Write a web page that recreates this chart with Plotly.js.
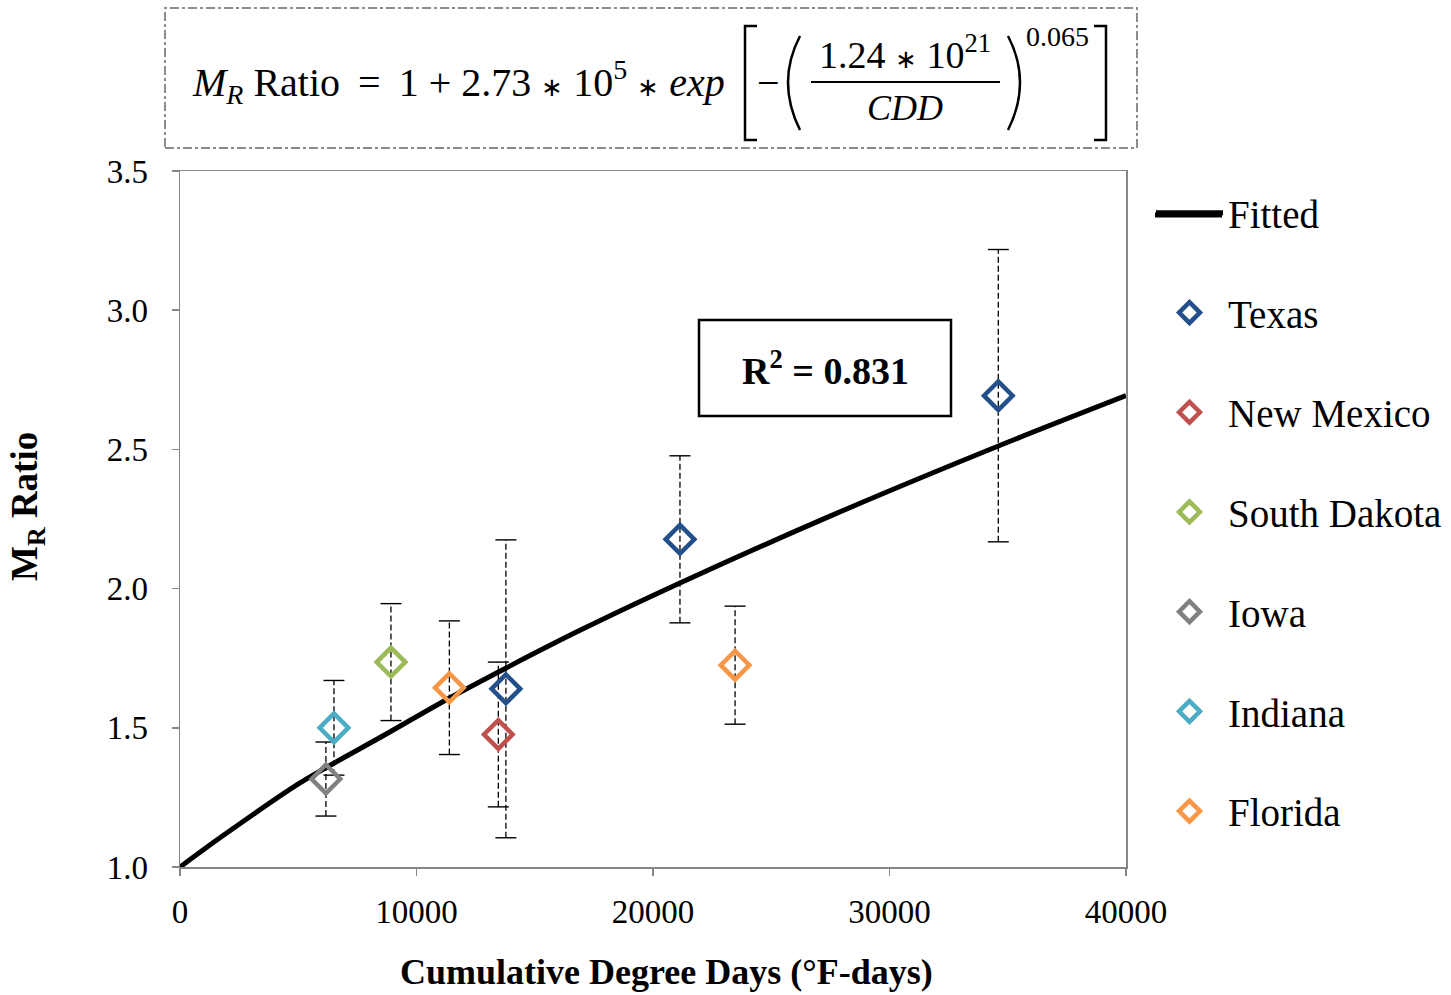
<!DOCTYPE html>
<html>
<head>
<meta charset="utf-8">
<script src="https://cdn.plot.ly/plotly-3.0.1.min.js"></script>
<style>
  html, body { margin: 0; padding: 0; background: #ffffff; }
  #chart { width: 1451px; height: 995px; }
</style>
</head>
<body>
<div id="chart"></div>
<script>
// ---------------- DATA ----------------
const fittedCDD   = [0, 1691, 5074, 8457, 11416, 13813, 16913, 21142, 27340, 34630, 40000];
const fittedRatio = [1.0, 1.105, 1.302, 1.465, 1.608, 1.716, 1.85, 2.02, 2.255, 2.513, 2.693];

const states = ["Texas", "New Mexico", "South Dakota", "Iowa", "Indiana", "Florida"];
const stateColors = ["#23508A", "#C0504D", "#9BBB59", "#808080", "#4BACC6", "#F79646"];

const texasCDD    = [13780, 21140, 34600];
const texasRatio  = [1.640, 2.177, 2.693];
const texasErr    = [0.535, 0.300, 0.525];

const newMexicoCDD   = [13460];
const newMexicoRatio = [1.476];
const newMexicoErr   = [0.260];

const southDakotaCDD   = [8920];
const southDakotaRatio = [1.736];
const southDakotaErr   = [0.210];

const iowaCDD   = [6170];
const iowaRatio = [1.316];
const iowaErr   = [0.133];

const indianaCDD   = [6510];
const indianaRatio = [1.500];
const indianaErr   = [0.170];

const floridaCDD   = [11390, 23470];
const floridaRatio = [1.644, 1.725];
const floridaErr   = [0.240, 0.212];

const xTickVals = [0, 10000, 20000, 30000, 40000];
const yTickVals = [1.0, 1.5, 2.0, 2.5, 3.0, 3.5];
const rSquaredText = "R<sup>2</sup> = 0.831";

// ---------------- helpers for layout placement ----------------
const PL = 180, PR = 1126, PT = 171, PB = 867;
const px = p => (p - PL) / (PR - PL);
const py = p => (PB - p) / (PB - PT);

const stateSeries = [
  [texasCDD, texasRatio, texasErr],
  [newMexicoCDD, newMexicoRatio, newMexicoErr],
  [southDakotaCDD, southDakotaRatio, southDakotaErr],
  [iowaCDD, iowaRatio, iowaErr],
  [indianaCDD, indianaRatio, indianaErr],
  [floridaCDD, floridaRatio, floridaErr]
];

const serif = "Liberation Serif, Times New Roman, serif";
const traces = [];

// error bars (dashed) as line traces built from the data
stateSeries.forEach(([xs, ys, es]) => {
  const ex = [], ey = [];
  xs.forEach((x, i) => { ex.push(x, x, null); ey.push(ys[i] - es[i], ys[i] + es[i], null); });
  traces.push({
    x: ex, y: ey, type: "scatter", mode: "lines+markers", showlegend: false, hoverinfo: "skip",
    line: { color: "#000000", width: 1.3, dash: "6px,3px" },
    marker: { symbol: "line-ew-open", size: 15, line: { color: "#000000", width: 1.4 } }
  });
});

// fitted curve
traces.push({
  x: fittedCDD, y: fittedRatio, type: "scatter", mode: "lines", name: "Fitted",
  legendgroup: "g0",
  line: { color: "#000000", width: 5, shape: "spline", smoothing: 0.8 }
});

// state markers
stateSeries.forEach(([xs, ys], k) => {
  traces.push({
    x: xs, y: ys, type: "scatter", mode: "markers", name: states[k],
    legendgroup: "g" + (k + 1),
    marker: { symbol: "diamond-open", size: 22, color: stateColors[k], line: { color: stateColors[k], width: 4.5 } }
  });
});

const shapes = [
  // equation dash-dot box
  { type: "rect", xref: "paper", yref: "paper", x0: px(165), x1: px(1137), y0: py(148), y1: py(8),
    line: { color: "#8c8c8c", width: 2, dash: "dashdot" } },
  // left square bracket
  { type: "path", xref: "paper", yref: "paper",
    path: `M${px(757)},${py(26)} L${px(745)},${py(26)} L${px(745)},${py(140)} L${px(757)},${py(140)}`,
    line: { color: "#000", width: 2.5 } },
  // right square bracket
  { type: "path", xref: "paper", yref: "paper",
    path: `M${px(1094)},${py(26)} L${px(1106)},${py(26)} L${px(1106)},${py(140)} L${px(1094)},${py(140)}`,
    line: { color: "#000", width: 2.5 } },
  // left parenthesis
  { type: "path", xref: "paper", yref: "paper",
    path: `M${px(800)},${py(36)} Q${px(776)},${py(82)} ${px(800)},${py(130)}`,
    line: { color: "#000", width: 2.5 } },
  // right parenthesis
  { type: "path", xref: "paper", yref: "paper",
    path: `M${px(1008)},${py(36)} Q${px(1032)},${py(82)} ${px(1008)},${py(130)}`,
    line: { color: "#000", width: 2.5 } },
  // fraction bar
  { type: "line", xref: "paper", yref: "paper", x0: px(811), x1: px(1000), y0: py(82), y1: py(82),
    line: { color: "#000", width: 2 } },
  // R^2 box
  { type: "rect", xref: "paper", yref: "paper", x0: px(699), x1: px(951), y0: py(416), y1: py(320),
    line: { color: "#000", width: 2.5 }, fillcolor: "rgba(255,255,255,1)", layer: "above" },
  // legend line extension for "Fitted"
  { type: "line", xref: "paper", yref: "paper", x0: px(1155), x1: px(1222), y0: py(215), y1: py(215),
    line: { color: "#000", width: 5 } }
];

const ast = '<span style="font-size:26px">∗</span>';
const eqFont = { family: serif, size: 40, color: "#000" };
const annotations = [
  { xref: "paper", yref: "paper", x: px(190), y: py(82), xanchor: "left", yanchor: "middle", showarrow: false,
    text: `<i>M</i><sub><i>R</i></sub> Ratio\u2009 = \u20091 + 2.73 ${ast} 10<sup>5</sup> ${ast} <i>exp</i>`, font: eqFont },
  { xref: "paper", yref: "paper", x: px(768), y: py(82), xanchor: "center", yanchor: "middle", showarrow: false,
    text: "−", font: eqFont },
  { xref: "paper", yref: "paper", x: px(905), y: py(52), xanchor: "center", yanchor: "middle", showarrow: false,
    text: `1.24 ${ast} 10<sup>21</sup>`, font: { family: serif, size: 38, color: "#000" } },
  { xref: "paper", yref: "paper", x: px(905), y: py(108), xanchor: "center", yanchor: "middle", showarrow: false,
    text: "<i>CDD</i>", font: { family: serif, size: 36, color: "#000" } },
  { xref: "paper", yref: "paper", x: px(1057), y: py(36), xanchor: "center", yanchor: "middle", showarrow: false,
    text: "0.065", font: { family: serif, size: 28, color: "#000" } },
  { xref: "paper", yref: "paper", x: px(825), y: py(368), xanchor: "center", yanchor: "middle", showarrow: false,
    text: "<b>" + rSquaredText + "</b>", font: { family: serif, size: 38, color: "#000" } },
  { xref: "paper", yref: "paper", x: px(666), y: py(972), xanchor: "center", yanchor: "middle", showarrow: false,
    text: "<b>Cumulative Degree Days (°F-days)</b>", font: { family: serif, size: 36, color: "#000" } },
  { xref: "paper", yref: "paper", x: px(27), y: py(507), xanchor: "center", yanchor: "middle", showarrow: false,
    textangle: -90, text: "<b>M<sub>R</sub> Ratio</b>", font: { family: serif, size: 37, color: "#000" } }
];

const layout = {
  width: 1451, height: 995,
  margin: { l: PL, r: 1451 - PR, t: PT, b: 995 - PB, pad: 0, autoexpand: false },
  paper_bgcolor: "#ffffff", plot_bgcolor: "#ffffff",
  font: { family: serif, color: "#000" },
  xaxis: {
    range: [0, 40000], tickvals: xTickVals, ticktext: xTickVals.map(String),
    showgrid: false, zeroline: false, showline: true, mirror: true, automargin: false,
    linecolor: "#868686", linewidth: 1.5, ticks: "outside", ticklen: 7, tickcolor: "#868686", tickwidth: 1.5,
    tickfont: { family: serif, size: 33, color: "#000" }, ticklabelstandoff: 8
  },
  yaxis: {
    range: [1, 3.5], tickvals: yTickVals, ticktext: yTickVals.map(v => v.toFixed(1)),
    showgrid: false, zeroline: false, showline: true, mirror: true, automargin: false,
    linecolor: "#868686", linewidth: 1.5, ticks: "outside", ticklen: 7, tickcolor: "#868686", tickwidth: 1.5,
    tickfont: { family: serif, size: 33, color: "#000" }, ticklabelstandoff: 17
  },
  showlegend: true,
  legend: {
    x: px(1151), y: py(181), xanchor: "left", yanchor: "top",
    font: { family: serif, size: 39, color: "#000" },
    bgcolor: "rgba(0,0,0,0)", borderwidth: 0,
    itemwidth: 67, tracegroupgap: 46, itemclick: false, itemdoubleclick: false
  },
  shapes: shapes,
  annotations: annotations
};

Plotly.newPlot("chart", traces, layout, { displayModeBar: false, staticPlot: true });
</script>
</body>
</html>
